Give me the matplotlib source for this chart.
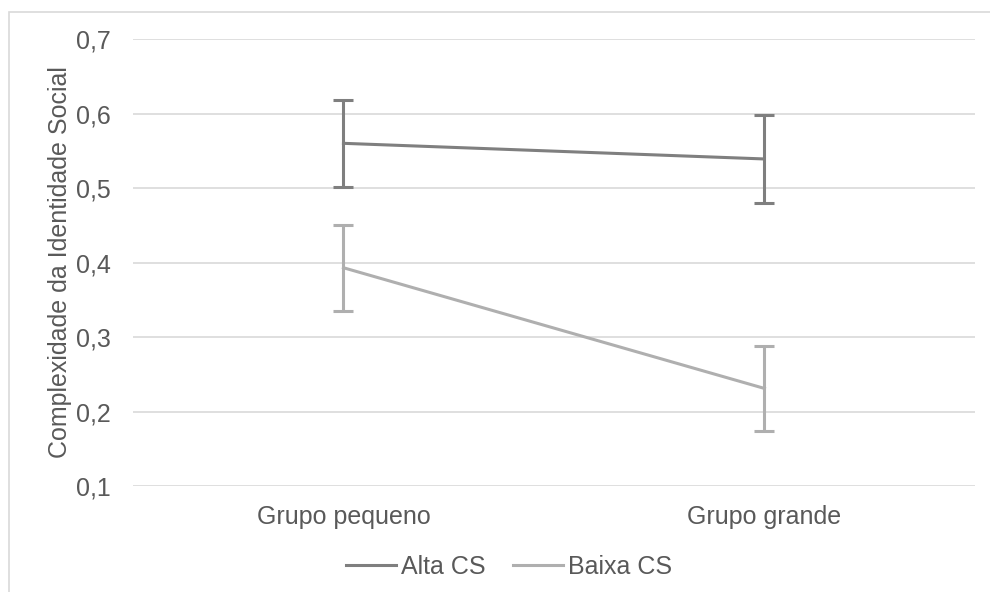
import numpy as np
import matplotlib.pyplot as plt
from matplotlib.patches import Rectangle
from matplotlib.lines import Line2D

plt.rcParams['font.family'] = ['Liberation Sans', 'DejaVu Sans']

# dados
categorias = ['Grupo pequeno', 'Grupo grande']
alta_cs = [0.56, 0.539]
alta_err = [0.058, 0.059]
baixa_cs = [0.393, 0.231]
baixa_err = [0.058, 0.057]
yticks = [0.1, 0.2, 0.3, 0.4, 0.5, 0.6, 0.7]

texto = '#595959'
grade = '#d9d9d9'
cor_alta = '#7f7f7f'
cor_baixa = '#afafaf'
fs = 18

fig = plt.figure(figsize=(9.9, 5.92), dpi=100)
ax = fig.add_axes([0.1343, 0.179, 0.8505, 0.7551])

x = np.arange(len(categorias))
ax.errorbar(x, alta_cs, yerr=alta_err, color=cor_alta, lw=2.2,
            capsize=7.5, capthick=2.2, elinewidth=2.2, zorder=3)
ax.errorbar(x, baixa_cs, yerr=baixa_err, color=cor_baixa, lw=2.2,
            capsize=7.5, capthick=2.2, elinewidth=2.2, zorder=3)

ax.set_xlim(-0.5, 1.5)
ax.set_ylim(0.1, 0.7)
ax.set_yticks(yticks)
ax.set_yticklabels([f'{v:.1f}'.replace('.', ',') for v in yticks])
ax.set_xticks(x)
ax.set_xticklabels(categorias)
ax.tick_params(axis='both', length=0, labelsize=fs, colors=texto)
ax.tick_params(axis='y', pad=16)
ax.tick_params(axis='x', pad=14)
ax.grid(axis='y', color=grade, lw=1.2)
ax.set_axisbelow(True)
for s in ax.spines.values():
    s.set_visible(False)

ax.set_ylabel('Complexidade da Identidade Social', fontsize=fs, color=texto, labelpad=3)

hs = [Line2D([], [], color=cor_alta, lw=2.2), Line2D([], [], color=cor_baixa, lw=2.2)]
leg = fig.legend(hs, ['Alta CS', 'Baixa CS'], loc='center', bbox_to_anchor=(0.514, 0.042),
                 ncol=2, frameon=False, fontsize=fs, handlelength=2.0, handletextpad=0.2,
                 columnspacing=1.1, borderpad=0)
for t in leg.get_texts():
    t.set_color(texto)

# moldura
fig.patches.append(Rectangle((9 / 990, -0.05), 1.2, 1 - 12 / 592 + 0.05, transform=fig.transFigure,
                             fill=False, edgecolor=grade, lw=1.2))

fig.savefig('out.png', dpi=100)
